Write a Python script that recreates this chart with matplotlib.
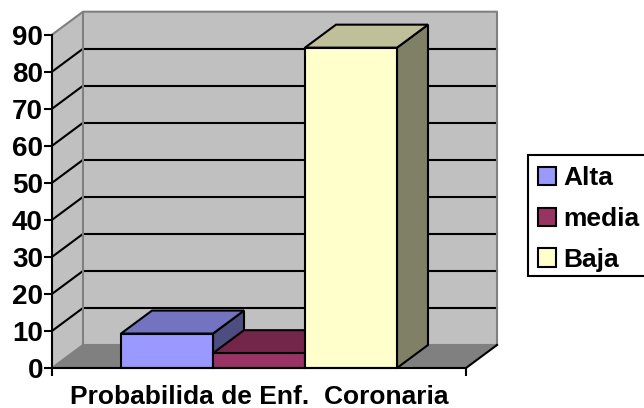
import matplotlib
matplotlib.use("Agg")
import matplotlib.pyplot as plt
from matplotlib.patches import Patch, Polygon, Rectangle

plt.rcParams['font.family'] = ['Liberation Sans', 'DejaVu Sans']
plt.rcParams['font.weight'] = 'bold'

series = ['Alta', 'media', 'Baja']
values = [9.3, 4, 86.5]
yticks = [0, 10, 20, 30, 40, 50, 60, 70, 80, 90]
category = 'Probabilida de Enf.  Coronaria'

front = ['#9999FF', '#993366', '#FFFFCC']
top = ['#7373BF', '#732649', '#BFBF99']
side = ['#4D4D80', '#4D1A33', '#808066']

W, H = 644, 408
fig = plt.figure(figsize=(W / 100, H / 100), dpi=100)
left, right, bottom, upper = 52, 466, 368, 34.7
ax = fig.add_axes([left / W, 1 - bottom / H, (right - left) / W, (bottom - upper) / H])
ax.set_xlim(0, 1)
ax.set_ylim(0, 90)
ax.patch.set_visible(False)

# depth of the 3d box, in data units
dx = 31 / (right - left)
dy = 23 / ((bottom - upper) / 90)
LW = 1.5
FS = 19


def poly(points, color, edge='black', z=2, lw=LW):
  ax.add_patch(Polygon(points, closed=True, facecolor=color, edgecolor=edge,
                       linewidth=lw, zorder=z, clip_on=False, joinstyle='miter'))


# walls and floor
poly([(dx, dy), (1 + dx, dy), (1 + dx, 90 + dy), (dx, 90 + dy)], '#C0C0C0', 'none', 1, 0)
poly([(0, 0), (dx, dy), (dx, 90 + dy), (0, 90)], '#C0C0C0', 'none', 1, 0)
poly([(0, 0), (1, 0), (1 + dx, dy), (dx, dy)], '#808080', 'none', 1, 0)

# gridlines run along side wall and back wall, top one is the grey edge
for t in yticks[1:-1]:
  ax.plot([0, dx], [t, t + dy], color='black', lw=LW, zorder=1.5, clip_on=False)
  ax.plot([dx, 1 + dx], [t + dy, t + dy], color='black', lw=LW, zorder=1.5, clip_on=False)
ax.plot([0, dx, 1 + dx, 1 + dx, dx], [90, 90 + dy, 90 + dy, dy, dy], color='#808080', lw=LW, zorder=1.6, clip_on=False)
ax.plot([dx, dx], [90 + dy, dy], color='#808080', lw=LW, zorder=1.6, clip_on=False)
ax.plot([0, dx], [0, dy], color='#808080', lw=LW, zorder=1.6, clip_on=False)
ax.plot([1, 1 + dx], [0, dy], color='black', lw=LW, zorder=1.7, clip_on=False)

# bars
bar_w = 2 / 9
for i, v in enumerate(values):
  x0 = 1 / 6 + i * bar_w
  x1 = x0 + bar_w
  z = 3 + i
  poly([(x1, 0), (x1 + dx, dy), (x1 + dx, v + dy), (x1, v)], side[i], z=z)
  poly([(x0, v), (x1, v), (x1 + dx, v + dy), (x0 + dx, v + dy)], top[i], z=z)
  poly([(x0, 0), (x1, 0), (x1, v), (x0, v)], front[i], z=z)

for s in ['top', 'right']:
  ax.spines[s].set_visible(False)
for s in ['left', 'bottom']:
  ax.spines[s].set_linewidth(LW)
  ax.spines[s].set_zorder(10)
ax.set_yticks(yticks)
ax.set_xticks([0, 1])
ax.set_xticklabels(['', ''])
ax.tick_params(axis='both', width=LW, length=5.5, labelsize=20, pad=1)
ax.set_xlabel(category, fontsize=FS, fontweight='bold', labelpad=6)

# legend box runs off the right edge in the original
fig.add_artist(Rectangle((528 / W, 1 - 276 / H), 120 / W, 121 / H, transform=fig.transFigure,
                         facecolor='white', edgecolor='black', linewidth=LW))
handles = [Patch(facecolor=front[i], edgecolor='black', linewidth=LW, label=series[i])
           for i in range(3)]
leg = fig.legend(handles=handles, loc='upper left', bbox_to_anchor=(528 / W, 1 - 156 / H),
                 bbox_transform=fig.transFigure, fontsize=FS, frameon=False,
                 borderpad=0.38, labelspacing=0.64,
                 handlelength=0.68, handleheight=0.68, handletextpad=0.27, borderaxespad=0)

fig.savefig('out.png', dpi=100)
